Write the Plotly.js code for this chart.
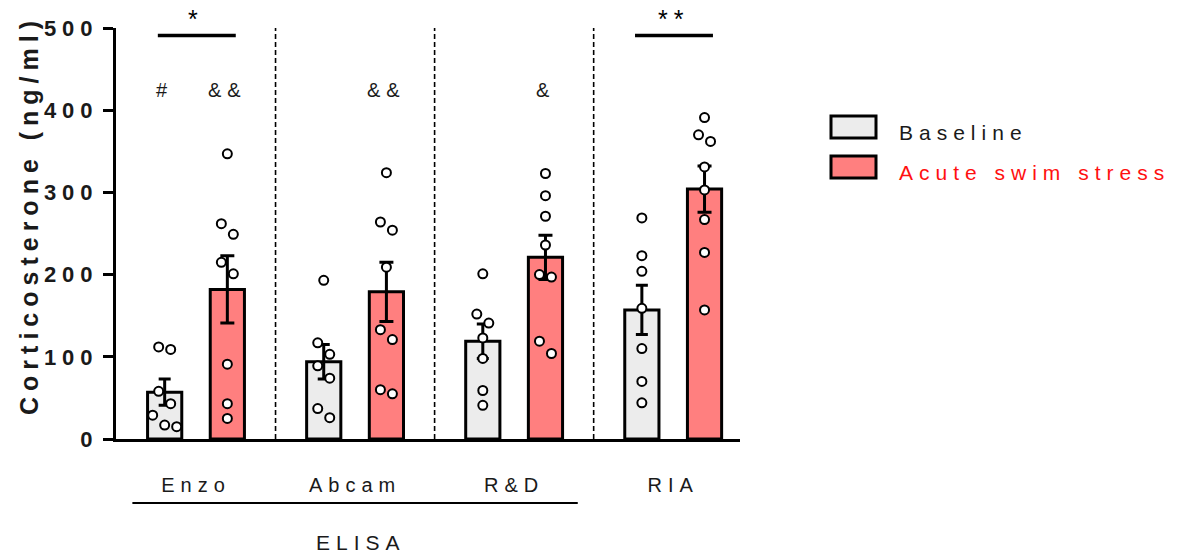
<!DOCTYPE html>
<html>
<head>
<meta charset="utf-8">
<script src="https://cdn.plot.ly/plotly-3.0.1.min.js"></script>
<style>
  html, body { margin: 0; padding: 0; background: #fff; }
  #chart { width: 1179px; height: 557px; }
  svg text { letter-spacing: 6px; }
  .ytick text { letter-spacing: 6px; }
</style>
</head>
<body>
<div id="chart"></div>
<script>
// ---------- data ----------
const groups = ['Enzo', 'Abcam', 'R&D', 'RIA'];
const seriesNames = ['Baseline', 'Acute swim stress'];
const baselineMean = [57, 94, 119, 157];
const baselineSem = [16, 21, 21, 30];
const stressMean = [182, 179, 221, 304];
const stressSem = [41, 36, 27, 28];
const baselinePoints = [
  [112, 109, 58, 43, 29, 17, 15],
  [193, 117, 103, 89, 74, 37, 26],
  [201, 152, 141, 123, 98, 59, 41],
  [269, 223, 204, 159, 110, 70, 44]
];
const stressPoints = [
  [347, 262, 249, 215, 201, 91, 43, 25],
  [324, 264, 254, 209, 133, 121, 60, 55],
  [323, 296, 271, 236, 200, 197, 119, 104],
  [391, 370, 362, 331, 303, 267, 227, 157]
];
const baselineMarks = ['#', '', '', ''];
const stressMarks = ['&&', '&&', '&', ''];
const sigGroups = [0, 3];
const sigLabels = ['*', '**'];
const methodLabel = 'ELISA';
const methodGroups = [0, 1, 2];
const yTitle = 'Corticosterone (ng/ml)';

// ---------- style / geometry ----------
const W = 1179, H = 557;
const M = {l: 116, r: 439, t: 28, b: 118};
const xRange = [-0.503, 3.42];
const yRange = [0, 500];
const pxPerX = (W - M.l - M.r) / (xRange[1] - xRange[0]);
const pxPerY = (H - M.t - M.b) / (yRange[1] - yRange[0]);
const barOff = 0.197;
const barW = 0.215;
const colBase = '#ececec';
const colStress = '#ff7f7f';
const FONT = 'Liberation Sans, Arial, sans-serif';
const TXT = '#1a1a1a';

// simple row-based swarm: points close in value share a row, spread horizontally
function swarm(vals, center) {
  const idx = vals.map((v, i) => i).sort((a, b) => vals[b] - vals[a]);
  const rows = [];
  idx.forEach(i => {
    const r = rows[rows.length - 1];
    if (r && (vals[r[0]] - vals[i]) * pxPerY < 13) r.push(i); else rows.push([i]);
  });
  const xs = new Array(vals.length);
  const step = 12 / pxPerX;
  rows.forEach(r => r.forEach((i, k) => { xs[i] = center + (k - (r.length - 1) / 2) * step; }));
  return xs;
}

const gx = groups.map((g, i) => i);
const traces = [];
traces.push({
  type: 'bar', name: seriesNames[0], x: gx, y: baselineMean,
  width: barW, offset: -barOff - barW / 2,
  marker: {color: colBase, line: {color: '#000', width: 3}},
  error_y: {type: 'data', array: baselineSem, color: '#000', thickness: 3, width: 6},
  showlegend: false, hoverinfo: 'y'
});
traces.push({
  type: 'bar', name: seriesNames[1], x: gx, y: stressMean,
  width: barW, offset: barOff - barW / 2,
  marker: {color: colStress, line: {color: '#000', width: 3}},
  error_y: {type: 'data', array: stressSem, color: '#000', thickness: 3, width: 7},
  showlegend: false, hoverinfo: 'y'
});
function pointsTrace(sets, sign, name) {
  let xs = [], ys = [];
  sets.forEach((vals, g) => {
    xs = xs.concat(swarm(vals, g + sign * barOff));
    ys = ys.concat(vals);
  });
  return {
    type: 'scatter', mode: 'markers', x: xs, y: ys, name: name + ' (individual)',
    marker: {size: 9, color: '#fff', line: {color: '#000', width: 2}},
    showlegend: false, cliponaxis: false, hoverinfo: 'y'
  };
}
traces.push(pointsTrace(baselinePoints, -1, seriesNames[0]));
traces.push(pointsTrace(stressPoints, 1, seriesNames[1]));

const shapes = [];
const annotations = [];
const pyPaper = py => (H - M.b - py) / (H - M.t - M.b);
const pxPaper = px => (px - M.l) / (W - M.l - M.r);
// dashed dividers between groups
for (let i = 0; i < groups.length - 1; i++) {
  shapes.push({type: 'line', xref: 'x', yref: 'y', x0: i + 0.5, x1: i + 0.5, y0: yRange[0], y1: yRange[1],
    line: {color: '#000', width: 1.6, dash: '5px,3px'}, layer: 'below'});
}
// significance bars
sigGroups.forEach((g, k) => {
  shapes.push({type: 'line', xref: 'x', yref: 'y', x0: g - 0.24, x1: g + 0.25, y0: 491, y1: 491,
    line: {color: '#000', width: 3.5}});
  annotations.push({xref: 'x', yref: 'y', x: g, y: 491, yshift: 0, yanchor: 'bottom', xanchor: 'center', text: sigLabels[k],
    showarrow: false, font: {family: FONT, size: 25, color: '#000'}});
});
// # and & marks
baselineMarks.forEach((t, g) => { if (t) annotations.push({xref: 'x', yref: 'y', x: g - barOff, y: 424, text: t,
  xanchor: 'center', yanchor: 'middle', showarrow: false, font: {family: FONT, size: 20, color: TXT}}); });
stressMarks.forEach((t, g) => { if (t) annotations.push({xref: 'x', yref: 'y', x: g + barOff, y: 424, text: t,
  xanchor: 'center', yanchor: 'middle', showarrow: false, font: {family: FONT, size: 20, color: TXT}}); });
// ELISA bracket
shapes.push({type: 'line', xref: 'x', yref: 'paper',
  x0: methodGroups[0] - 0.4, x1: methodGroups[methodGroups.length - 1] + 0.4,
  y0: pyPaper(503), y1: pyPaper(503), line: {color: '#000', width: 1.8}});
annotations.push({xref: 'x', yref: 'paper', x: (methodGroups[0] + methodGroups[methodGroups.length - 1]) / 2 + 0.04,
  y: pyPaper(542), xanchor: 'center', yanchor: 'middle', text: methodLabel, showarrow: false,
  font: {family: FONT, size: 21, color: TXT}});
// y-axis title
annotations.push({xref: 'paper', yref: 'paper', x: pxPaper(29), y: pyPaper(215), textangle: -90,
  xanchor: 'center', yanchor: 'middle', text: yTitle, showarrow: false,
  font: {family: FONT, size: 25, color: TXT, weight: 'bold'}});
// custom legend
const legendCols = [colBase, colStress];
const legendTxt = [TXT, '#ff1010'];
const legendY = [127, 167];
seriesNames.forEach((n, k) => {
  shapes.push({type: 'rect', xref: 'paper', yref: 'paper',
    x0: pxPaper(831), x1: pxPaper(876), y0: pyPaper(legendY[k] - 11), y1: pyPaper(legendY[k] + 11),
    fillcolor: legendCols[k], line: {color: '#000', width: 3}});
  annotations.push({xref: 'paper', yref: 'paper', x: pxPaper(897), y: pyPaper(legendY[k] + 5),
    xanchor: 'left', yanchor: 'middle', text: n, showarrow: false,
    font: {family: FONT, size: 21, color: legendTxt[k]}});
});

const layout = {
  width: W, height: H, margin: M,
  paper_bgcolor: '#fff', plot_bgcolor: '#fff',
  barmode: 'overlay', showlegend: false,
  font: {family: FONT, color: TXT},
  xaxis: {
    range: xRange, tickvals: gx, ticktext: groups, ticks: '', showgrid: false, zeroline: false,
    showline: true, linecolor: '#000', linewidth: 3,
    tickfont: {family: FONT, size: 20, color: TXT}, ticklabelstandoff: 26, fixedrange: true
  },
  yaxis: {
    range: yRange, dtick: 100, ticks: 'outside', ticklen: 10, tickwidth: 3, tickcolor: '#000',
    showgrid: false, zeroline: false, showline: true, linecolor: '#000', linewidth: 3,
    tickfont: {family: FONT, size: 22, color: TXT, weight: 'bold'}, ticklabelstandoff: 0,
    fixedrange: true
  },
  shapes: shapes, annotations: annotations
};

Plotly.newPlot('chart', traces, layout, {displayModeBar: false, staticPlot: true});
</script>
</body>
</html>
